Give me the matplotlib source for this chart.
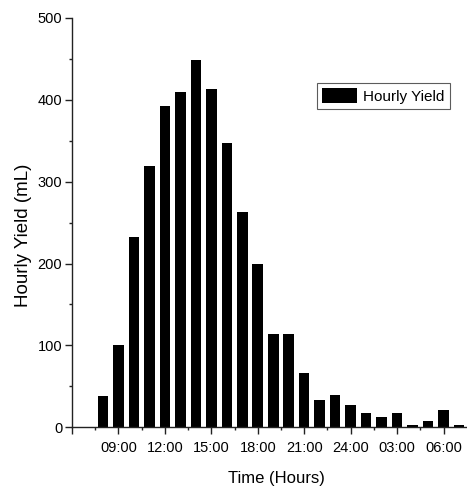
import matplotlib
matplotlib.use("Agg")
import matplotlib.pyplot as plt
from matplotlib.ticker import FixedLocator, MultipleLocator

# 数据：小时（从 08:00 到次日 07:00，跨日按 24+ 计）与每小时产量
hours = list(range(8, 32))
hourly_yield = [38, 100, 233, 319, 393, 409, 449, 413, 347, 263,
                199, 114, 114, 66, 33, 39, 27, 18, 13, 18, 3, 8, 21, 3]

tick_hours = [6, 9, 12, 15, 18, 21, 24, 27, 30]
tick_labels = ['', '09:00', '12:00', '15:00', '18:00', '21:00',
               '24:00', '03:00', '06:00']

plt.rcParams['font.family'] = ['Liberation Sans', 'DejaVu Sans']

fig = plt.figure(figsize=(4.67, 4.92), dpi=100)
fig.patch.set_facecolor('white')
ax = fig.add_axes([0.154, 0.1315, 0.844, 0.832])

ax.bar(hours, hourly_yield, width=0.68, color='black', label='Hourly Yield')

ax.set_xlim(6, 31.45)
ax.set_ylim(0, 500)

# 坐标轴样式（仅左、下）
for side in ('top', 'right'):
    ax.spines[side].set_visible(False)
for side in ('left', 'bottom'):
    ax.spines[side].set_linewidth(1.0)
    ax.spines[side].set_color('#222222')

ax.xaxis.set_major_locator(FixedLocator(tick_hours))
ax.set_xticklabels(tick_labels)
ax.xaxis.set_minor_locator(MultipleLocator(1.5))
ax.yaxis.set_major_locator(MultipleLocator(100))
ax.yaxis.set_minor_locator(MultipleLocator(50))

ax.tick_params(axis='both', which='major', direction='out', length=5,
               width=1.0, color='#222222', labelsize=10.5)
ax.tick_params(axis='both', which='minor', direction='out', length=2.5,
               width=1.0, color='#222222')
ax.tick_params(axis='x', which='major', pad=5)
ax.tick_params(axis='y', which='major', pad=2)

ax.set_xlabel('Time (Hours)', fontsize=12)
ax.set_ylabel('Hourly Yield (mL)', fontsize=13.5)
ax.xaxis.set_label_coords(0.518, -0.107)
ax.yaxis.set_label_coords(-0.1015, 0.47)

leg = ax.legend(loc='upper left', bbox_to_anchor=(317 / 467, 1 - 83 / 492),
                bbox_transform=fig.transFigure, fontsize=11, frameon=True,
                fancybox=False, borderpad=0.35, borderaxespad=0,
                handlelength=2.3, handleheight=1.1, handletextpad=0.35)
leg.get_frame().set_edgecolor('#333333')
leg.get_frame().set_linewidth(0.8)

fig.savefig('out.png', dpi=100, facecolor='white')
